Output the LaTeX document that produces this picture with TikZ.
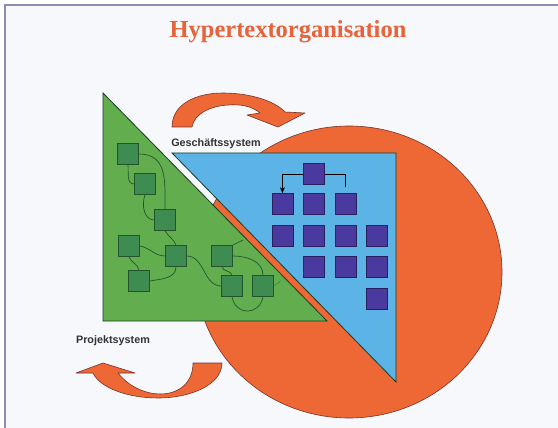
\documentclass[tikz,border=0pt]{standalone}
\usepackage{fontspec}
\setmainfont{Liberation Serif}
\setsansfont{Liberation Sans}
\usetikzlibrary{arrows.meta,positioning}

\definecolor{pageblue}{RGB}{246,248,252}
\definecolor{framegray}{RGB}{140,140,182}
\definecolor{titleorange}{RGB}{232,98,58}
\definecolor{circlered}{RGB}{238,104,54}
\definecolor{rimred}{RGB}{120,50,40}
\definecolor{trigreen}{RGB}{98,174,78}
\definecolor{sqgreen}{RGB}{62,140,82}
\definecolor{gdark}{RGB}{36,84,44}
\definecolor{triblue}{RGB}{92,180,230}
\definecolor{sqpurple}{RGB}{74,58,160}
\definecolor{pdark}{RGB}{40,30,90}
\definecolor{labelgray}{RGB}{50,50,50}

\begin{document}
\begin{tikzpicture}[x=1pt,y=-1pt,
        node distance=10pt and 10pt,
        gbox/.style={rectangle,draw=gdark,fill=sqgreen,line width=0.6pt,minimum size=21pt,inner sep=0pt},
        pbox/.style={rectangle,draw=pdark,fill=sqpurple,line width=0.6pt,minimum size=21pt,inner sep=0pt},
        gline/.style={gdark,line width=0.7pt},
        arrow/.style={-{Stealth[length=6pt,width=5pt]},line width=0.7pt},
        bendarrow/.style={fill=circlered,draw=rimred,line width=0.6pt,line join=round},
        triangle/.style={draw=gdark!70!black,line width=0.8pt,line join=miter},
        label/.style={font=\sffamily\bfseries\fontsize{10.8}{12}\selectfont,text=labelgray,anchor=base}
    ]
        \useasboundingbox (0,0) rectangle (558,428);
        \fill[pageblue] (5,5) rectangle (558,428);
        \draw[framegray,line width=2pt] (5,428) -- (5,5) -- (558,5);

        \node[font=\bfseries\fontsize{24.5}{28}\selectfont,text=titleorange,anchor=base] (title) at (288,38) {Hypertextorganisation};

        \fill[circlered,draw=rimred,line width=0.6pt] (349,272) ellipse [x radius=153, y radius=146];
        \fill[triblue,triangle] (172,153) -- (396,153) -- (396,382) -- cycle;
        \fill[trigreen,triangle] (103,93) -- (103,321) -- (327,321) -- cycle;

        \draw[bendarrow] (172,127) .. controls (172,104) and (196,93) .. (223,93)
            .. controls (252,93) and (276,102) .. (285,112) -- (305,113) -- (278,127) -- (247,115) -- (260,113)
            .. controls (252,106) and (240,104) .. (228,105)
            .. controls (210,106) and (194,114) .. (192,127) -- cycle;
        \draw[bendarrow] (222,363) .. controls (222,385) and (190,398) .. (158,398)
            .. controls (128,398) and (100,388) .. (93,373) -- (76,373) -- (103,363) -- (135,373) -- (118,373)
            .. controls (128,386) and (145,394) .. (160,394)
            .. controls (180,394) and (193,382) .. (193,363) -- cycle;

        \node[label] (gesch) at (216,147) {Geschäftssystem};
        \node[label] (proj) at (113,343) {Projektsystem};

        \node[gbox] (g1) at (128,154) {};
        \node[gbox] (g2) at (145,184) {};
        \node[gbox] (g3) at (165,220) {};
        \node[gbox] (g4) at (129,246) {};
        \node[gbox] (g5) at (176,256) {};
        \node[gbox] (g6) at (139,281) {};
        \node[gbox] (g7) at (222,256) {};
        \node[gbox] (g8) at (232,286) {};
        \node[gbox] (g9) at (263,286) {};
        \coordinate (gtick) at (243,240);
        \coordinate (gdot) at (281,281);

        \draw[gline] (g1.south) to[out=-85,in=180] (g2.west);
        \draw[gline] (g1.east) to[out=0,in=90,looseness=1.2] (g3.north);
        \draw[gline] (g2.south) to[out=-110,in=180] (g3.west);
        \draw[gline] (g3.south) to[out=-60,in=110] (g5.north);
        \draw[gline] (g4.east) to[out=-10,in=180] (g5.west);
        \draw[gline] (g4.south) to[out=-70,in=100] (g6.north);
        \draw[gline] (g6.east) to[out=10,in=-90] (g5.south);
        \draw[gline] (g5.east) to[out=0,in=180] (g8.west);
        \draw[gline] (g7.south) to[out=-80,in=100] (g8.north);
        \draw[gline] (g7.east) to[out=0,in=90] (g9.north);
        \draw[gline] (g8.south) to[out=-80,in=-100,looseness=1.6] (g9.south);
        \draw[gline] (g7.north east) -- (gtick);
        \draw[gline,densely dotted] (g9.east) -- (gdot);

        \node[pbox] (p0) at (314,174) {};
        \node[pbox] (p12) at (314,204) {};
        \node[pbox, left=of p12] (p11) {};
        \node[pbox, right=of p12] (p13) {};
        \node[pbox, below=of p11] (p21) {};
        \node[pbox, below=of p12] (p22) {};
        \node[pbox, below=of p13] (p23) {};
        \node[pbox, right=of p23] (p24) {};
        \node[pbox, below=of p22] (p32) {};
        \node[pbox, below=of p23] (p33) {};
        \node[pbox, below=of p24] (p34) {};
        \node[pbox, below=of p34] (p44) {};
        \coordinate (ptop) at (345,187);

        \draw[arrow] (p0.west) -| (p11.north);
        \draw[line width=0.7pt] (p0.east) -| (ptop);
    \end{tikzpicture}
\end{document}
